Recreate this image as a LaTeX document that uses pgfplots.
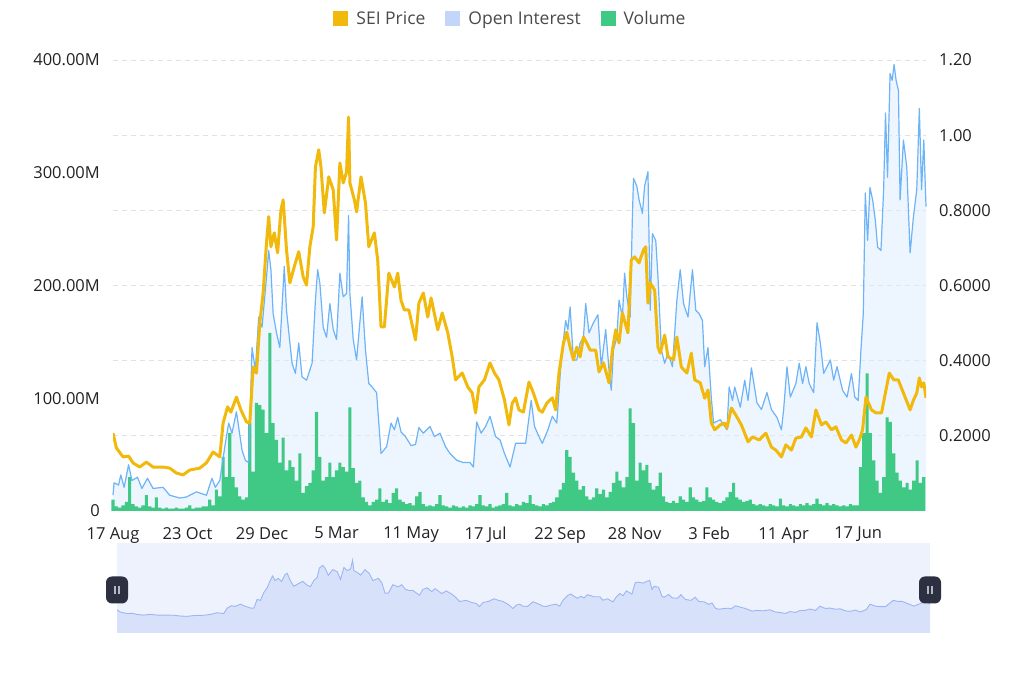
\documentclass[border=0pt]{standalone}
\usepackage{pgfplots}
\pgfplotsset{compat=1.18}
\usepackage{pgfplotstable}
\usepackage{fontspec}
\setmainfont{Open Sans}
\definecolor{seiorange}{HTML}{F0B90B}
\definecolor{oiline}{HTML}{6DB3F8}
\definecolor{oifill}{HTML}{DCEBFD}
\definecolor{oilegend}{HTML}{C3D6FA}
\definecolor{volgreen}{HTML}{3FC984}
\definecolor{gridc}{HTML}{E2E2E2}
\definecolor{txt}{HTML}{222222}
\definecolor{legtxt}{HTML}{4A4A4A}
\definecolor{slbg}{HTML}{EEF2FD}
\definecolor{slfill}{HTML}{D7E1FA}
\definecolor{slline}{HTML}{9CB6F3}
\definecolor{handle}{HTML}{2C3040}
\definecolor{handlebar}{HTML}{B4B8C4}

\pgfplotstableread{
day price
0 0.207
3 0.168
9 0.144
14 0.146
18 0.128
24 0.117
30 0.130
36 0.117
45 0.117
51 0.114
57 0.101
63 0.096
69 0.109
78 0.114
84 0.128
90 0.157
96 0.144
99 0.234
103 0.277
106 0.263
111 0.303
115 0.269
120 0.237
123 0.234
126 0.383
129 0.367
132 0.500
135 0.580
138 0.713
140 0.783
142 0.703
145 0.740
148 0.687
151 0.801
153 0.828
156 0.695
159 0.607
163 0.650
167 0.690
171 0.623
174 0.601
177 0.703
180 0.756
182 0.915
185 0.961
187 0.915
190 0.793
194 0.889
198 0.854
201 0.721
204 0.926
207 0.873
210 0.902
211.8 1.048
213 0.873
217 0.828
219 0.796
223 0.889
227 0.820
230 0.703
235 0.740
238 0.668
241 0.490
244 0.490
248 0.633
253 0.596
256 0.633
259 0.560
262 0.535
266 0.535
272 0.455
275 0.553
279 0.580
283 0.516
286 0.567
292 0.482
296 0.527
301 0.474
305 0.410
308 0.349
314 0.367
319 0.330
323 0.314
326 0.261
329 0.330
334 0.349
339 0.394
343 0.367
347 0.349
352 0.295
356 0.229
359 0.287
362 0.301
365 0.269
369 0.263
374 0.343
378 0.314
383 0.269
386 0.263
390 0.287
395 0.301
398 0.269
401 0.367
405 0.447
408 0.476
411 0.436
414 0.402
417 0.436
420 0.410
423 0.463
426 0.447
429 0.428
434 0.428
437 0.370
441 0.394
446 0.341
449 0.428
452 0.482
455 0.447
458 0.527
463 0.474
466 0.668
469 0.676
473 0.660
477 0.695
479 0.703
481 0.553
483 0.607
487 0.588
490 0.436
492 0.420
496 0.468
499 0.410
504 0.402
507 0.463
511 0.383
516 0.367
520 0.420
523 0.349
528 0.341
532 0.300
535 0.322
538 0.234
541 0.216
546 0.229
550 0.234
552 0.221
556 0.274
560 0.255
565 0.229
571 0.184
575 0.197
581 0.189
587 0.207
592 0.170
596 0.162
601 0.144
605 0.176
610 0.162
614 0.194
619 0.197
623 0.221
628 0.197
632 0.269
637 0.229
641 0.237
646 0.216
650 0.224
655 0.189
659 0.181
664 0.202
668 0.170
671 0.189
674 0.216
677 0.303
682 0.269
686 0.261
691 0.261
695 0.322
698 0.367
702 0.349
706 0.349
710.7 0.314
716.7 0.269
719.7 0.295
722.7 0.314
725 0.354
727 0.330
729 0.341
731 0.301
}\pricetab

\pgfplotstableread{
day oi
0 14
1 25
5 23
7 32
10 21
14 41
17 27
22 30
26 20
31 29
36 20
45 21
51 14
60 11.5
66 12.4
75 17
84 14
89 29
92 21
96 27
101 60
104 78
107 69
111 88
116 54
119 45
122 43
125 145
128 125
131 172
134 163
137 196
140 231
142 214
144 175
147 158
150 145
154 217
156 178
161 131
164 122
167 149
170 119
174 116
179 131
182 187
184 214
186 202
189 163
192 154
195 184
198 161
201 152
204 211
207 190
210 193
211.8 262
213 193
216 152
219 134
224 190
227 143
230 113
233 110
237 105
241 51
246 57
250 78
253 72
256 83
259 70
263 66
268 58
272 59
275 74
279 69
285 75
289 66
294 69
299 57
303 51
309 45
315 43
321 43
324 39
327 79
331 69
335 75
339 84
344 66
348 63
352 51
357 39
362 60
366 60
371 60
376 98
379 75
383 66
386 60
391 72
395 84
399 78
403 134
407 169
409 161
411 181
414 134
417 134
420 149
423 154
425 184
428 158
432 167
436 174
439 128
443 161
446 125
448 107
450 143
453 154
455 187
458 172
460 211
462 190
465 172
467 261
468 295
471 288
473 276
476 264
478 288
481 301
483 178
485 246
488 240
490 208
493 143
496 131
499 140
503 128
507 187
510 214
513 184
517 172
521 214
524 178
527 175
530 169
532 128
535 145
538 100
540 78
546 81
552 72
554 110
557 98
559 110
564 92
568 116
571 98
574 127
579 96
583 90
588 105
592 90
597 83
601 72
603 90
606 128
609 101
614 113
617 131
620 113
623 128
626 113
630 105
633 167
636 149
639 122
645 134
648 116
651 128
656 107
660 101
664 122
667 101
670 98
672.5 143
674.6 175
676.4 282
678.5 240
680.6 287
683 276
685.4 258
687.5 234
690.5 231
692.9 285
694.6 353
696.4 296
698.7 388
700.6 382
702.3 396
704.1 382
706.2 373
707.7 276
710.7 329
713.7 305
716.7 229
719.7 261
722.7 285
725 357
727 285
729 329
731 270
}\oitab

\pgfplotstableread{
day vol
0 10
3 4
6 3
9 5
12 8
15 30
18 6
21 4
24 3
27 5
30 14
33 4
36 3
39 12
42 3
45 2
48 3
51 2
54 2
57 3
60 2
63 2
66 3
69 5
72 2
75 3
78 3
81 4
84 4
87 10
90 5
93 19
96 13
99 48
102 30
105 69
108 30
111 21
114 13
117 10
120 12
123 78
126 35
129 96
132 94
135 90
138 69
141 158
144 78
147 63
150 43
153 65
156 36
159 45
162 39
165 27
168 51
171 16
174 22
177 25
180 36
183 88
186 48
189 27
192 30
195 43
198 30
201 36
204 43
207 39
210 35
213 92
216 38
219 25
222 27
225 12
228 8
231 5
234 8
237 10
240 20
243 8
246 10
249 7
252 16
255 20
258 10
261 8
264 6
267 7
270 5
273 13
276 17
279 6
282 4
285 5
288 4
291 6
294 14
297 5
300 4
303 3
306 5
309 4
312 3
315 4
318 3
321 5
324 4
327 6
330 14
333 5
336 4
339 6
342 3
345 4
348 5
351 6
354 16
357 5
360 4
363 6
366 5
369 8
372 7
375 14
378 6
381 5
384 4
387 6
390 5
393 7
396 8
399 12
402 19
405 25
408 54
411 48
414 34
417 27
420 19
423 22
426 13
429 10
432 12
435 20
438 15
441 19
444 12
447 17
450 25
453 35
456 27
459 21
462 30
465 91
468 78
471 27
474 43
477 36
480 41
483 25
486 19
489 22
492 34
495 13
498 8
501 7
504 9
507 7
510 13
513 10
516 8
519 21
522 12
525 10
528 8
531 9
534 21
537 12
540 10
543 8
546 7
549 9
552 12
555 17
558 25
561 12
564 10
567 8
570 9
573 10
576 6
579 5
582 6
585 5
588 4
591 6
594 5
597 4
600 11
603 5
606 4
609 6
612 5
615 4
618 6
621 5
624 7
627 5
630 6
633 11
636 6
639 5
642 7
645 5
648 6
651 5
654 4
657 5
660 4
663 6
666 5
669 5
672 39
675 69
678 122
681 69
684 45
687 27
690 16
693 30
696 83
699 79
702 51
705 34
708 27
711 21
714 25
717 19
720 27
723 45
726 25
729 30
}\voltab

\begin{document}
\begin{tikzpicture}
\useasboundingbox (0bp,0bp) rectangle (1024bp,678bp);
% main axis: OI + volume (left scale)
\begin{axis}[
  at={(113bp,167bp)}, anchor=south west,
  scale only axis, width=813bp, height=451bp,
  xmin=0, xmax=731, ymin=0, ymax=400,
  axis x line*=bottom, axis y line*=left,
  axis line style={draw=none},
  clip=false,
  xtick={0,67,134,201,268,335,402,469,536,603,670},
  xticklabels={17 Aug,23 Oct,29 Dec,5 Mar,11 May,17 Jul,22 Sep,28 Nov,3 Feb,11 Apr,17 Jun},
  ytick={0,100,200,300,400},
  yticklabels={0,100.00M,200.00M,300.00M,400.00M},
  extra y ticks={66.667,133.333,200,266.667,333.333,400},
  extra y tick labels={},
  extra y tick style={grid=major, major tick length=0pt},
  grid style={gridc, line width=0.9bp, dash pattern=on 5bp off 4bp},
  major tick length=0pt,
  tick label style={font=\fontsize{16.5bp}{19bp}\selectfont, text=txt, inner sep=0pt},
  yticklabel style={anchor=east, xshift=-13bp},
  xticklabel style={anchor=north, yshift=-16bp},
  legend style={at={(0.5,1)}, anchor=center, xshift=-8bp, yshift=41bp,
    draw=none, fill=none, legend columns=3,
    font=\fontsize{17.5bp}{20bp}\selectfont, text=legtxt,
    /tikz/every odd column/.append style={column sep=4bp},
    /tikz/every even column/.append style={column sep=16bp},
    nodes={inner sep=4bp}},
  legend image code/.code={\fill[#1] (0bp,-7.5bp) rectangle (15bp,7.5bp);},
]
\addlegendimage{fill=seiorange, draw=none}
\addlegendentry{SEI Price}
\addlegendimage{fill=oilegend, draw=none}
\addlegendentry{Open Interest}
\addlegendimage{fill=volgreen, draw=none}
\addlegendentry{Volume}
\addplot[fill=oifill, fill opacity=0.5, draw=none, forget plot] table[x=day,y=oi]{\oitab} \closedcycle;
\addplot[ybar, bar width=2.8, fill=volgreen, draw=none, forget plot] table[x=day,y=vol]{\voltab};
\addplot[oiline, line width=1.2bp, line join=round, forget plot] table[x=day,y=oi]{\oitab};
\end{axis}
% price axis (right scale)
\begin{axis}[
  at={(113bp,167bp)}, anchor=south west,
  scale only axis, width=813bp, height=451bp,
  xmin=0, xmax=731, ymin=0, ymax=1.2,
  axis x line=none, axis y line*=right,
  axis line style={draw=none},
  xtick=\empty,
  ytick={0.2,0.4,0.6,0.8,1.0,1.2},
  yticklabels={0.2000,0.4000,0.6000,0.8000,1.00,1.20},
  major tick length=0pt,
  tick label style={font=\fontsize{16.5bp}{19bp}\selectfont, text=txt, inner sep=0pt},
  yticklabel style={anchor=west, xshift=13bp},
]
\addplot[seiorange, line width=3bp, line join=round] table[x=day,y=price]{\pricetab};
\end{axis}
% data-zoom slider
\begin{axis}[
  at={(117bp,45bp)}, anchor=south west,
  scale only axis, width=813bp, height=90bp,
  xmin=0, xmax=731, ymin=0, ymax=1.528,
  axis lines=none, ticks=none,
  axis background/.style={fill=slbg},
  clip=false,
]
\addplot[fill=slfill, draw=none] table[x=day,y expr=\thisrow{price}+0.187]{\pricetab} \closedcycle;
\addplot[slline, line width=0.9bp] table[x=day,y expr=\thisrow{price}+0.187]{\pricetab};
\node[fill=handle, rounded corners=6bp, minimum width=22bp, minimum height=27bp, inner sep=0pt]
  at (rel axis cs:0,0.478) {};
\draw[handlebar, line width=1.3bp] ([xshift=-2bp,yshift=-4bp]rel axis cs:0,0.478) -- ++(0,8bp);
\draw[handlebar, line width=1.3bp] ([xshift=2bp,yshift=-4bp]rel axis cs:0,0.478) -- ++(0,8bp);
\node[fill=handle, rounded corners=6bp, minimum width=22bp, minimum height=27bp, inner sep=0pt]
  at (rel axis cs:1,0.478) {};
\draw[handlebar, line width=1.3bp] ([xshift=-2bp,yshift=-4bp]rel axis cs:1,0.478) -- ++(0,8bp);
\draw[handlebar, line width=1.3bp] ([xshift=2bp,yshift=-4bp]rel axis cs:1,0.478) -- ++(0,8bp);
\end{axis}
\end{tikzpicture}
\end{document}
